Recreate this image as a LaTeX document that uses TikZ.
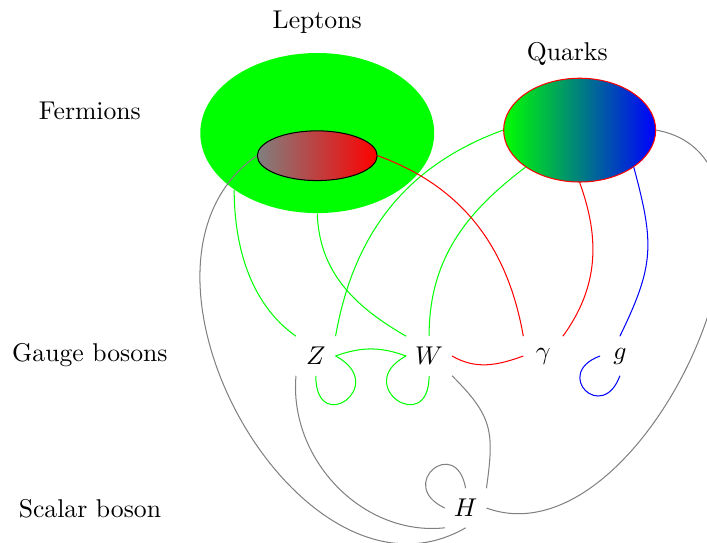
\documentclass[tikz,border=0pt]{standalone}
\usetikzlibrary{shapes.geometric}
\tikzset{family/.style={ellipse,inner sep=0pt},
  particle/.style={minimum size=15pt},
  link/.style={line width=0.4pt}}

\begin{document}
\begin{tikzpicture}[x=1cm,y=1cm]
  \useasboundingbox (0,0) rectangle (9.672,-7.428);
  \node[family,fill=green,minimum width=3.2cm,minimum height=2.19cm] (leptons) at (4.34,-1.82) {};
  \node[family,draw=black,left color=gray,right color=red,minimum width=1.64cm,minimum height=0.68cm] (lepton) at (4.34,-2.13) {};
  \node[family,draw=red,left color=green,right color=blue,minimum width=2.08cm,minimum height=1.42cm] (quarks) at (7.93,-1.78) {};
  \node (leptonslabel) at (4.34,-0.30) {Leptons};
  \node (quarkslabel) at (7.76,-0.74) {Quarks};
  \node (fermions) at (1.23,-1.52) {Fermions};
  \node (gauge) at (1.23,-4.86) {Gauge bosons};
  \node (scalar) at (1.23,-6.96) {Scalar boson};
  \node[particle] (Z) at (4.32,-4.87) {$Z$};
  \node[particle] (W) at (5.87,-4.87) {$W$};
  \node[particle] (gamma) at (7.43,-4.87) {$\gamma$};
  \node[particle] (g) at (8.48,-4.87) {$g$};
  \node[particle] (H) at (6.37,-6.95) {$H$};
  \draw[link,green] (leptons.south west) to[out=-90,in=145,looseness=0.9] (Z.north west);
  \draw[link,green] (leptons.south) to[out=-88,in=150] (W.north west);
  \draw[link,green] (quarks.west) to[out=200,in=80] (Z.north east);
  \draw[link,green] (quarks.south west) to[out=217,in=90] (W.north);
  \draw[link,green] (Z.east) to[out=20,in=160] (W.west);
  \draw[link,green] (Z.south) to[out=-90,in=-28,distance=0.85cm] (Z.east);
  \draw[link,green] (W.south) to[out=-90,in=-152,distance=0.85cm] (W.west);
  \draw[link,red] (lepton.east) to[out=-20,in=100] (gamma.north west);
  \draw[link,red] (W.east) to[out=-30,in=-160] (gamma.west);
  \draw[link,red] (quarks.south) to[out=-70,in=54] (gamma.north east);
  \draw[link,blue] (quarks.south east) to[out=-75,in=64,looseness=1.2] (g.north);
  \draw[link,blue] (g.west) to[out=200,in=-110,distance=0.7cm] (g.south);
  \draw[link,gray] (lepton.west) to[out=215,in=210,looseness=1.15] (H.south);
  \draw[link,gray] (Z.south west) to[out=-95,in=186] (H.south west);
  \draw[link,gray] (W.south east) to[out=-45,in=82,looseness=1.25] (H.north east);
  \draw[link,gray] (H.north) to[out=100,in=155,distance=0.75cm] (H.west);
  \draw[link,gray] (quarks.east) to[out=-10,in=-20,looseness=1.05] (H.east);
\end{tikzpicture}
\end{document}
